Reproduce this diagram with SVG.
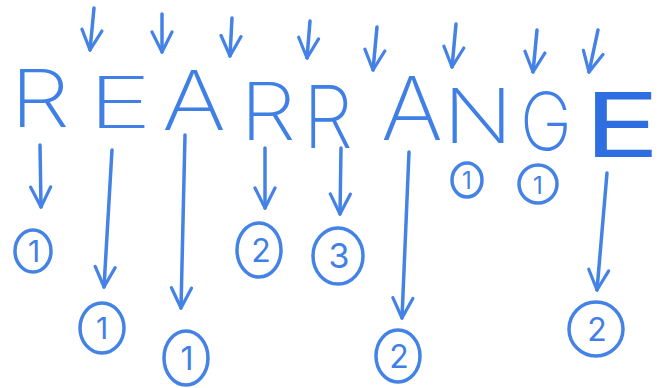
<svg xmlns="http://www.w3.org/2000/svg" width="661" height="388" viewBox="0 0 661 388">
<defs>
<style>
.ln{stroke:#4482e6;stroke-width:3.5;fill:none;stroke-linecap:round;stroke-linejoin:round}
.ln2{stroke:#4482e6;stroke-width:3.5;fill:none;stroke-linecap:round;marker-end:url(#v)}
.let{font-family:Inter,"Open Sans",Roboto,"Liberation Sans",sans-serif;font-weight:200;fill:#3f7fe6}
.num{font-family:Inter,"Liberation Sans","DejaVu Sans",sans-serif;font-weight:400;fill:#3f7fe6;text-anchor:middle}
</style>
<marker id="v" viewBox="0 0 12 12" refX="11" refY="6" markerWidth="24" markerHeight="24" markerUnits="userSpaceOnUse" orient="auto">
<path d="M1,1 L11,6 L1,11" fill="none" stroke="#4482e6" stroke-width="1.6" stroke-linecap="round" stroke-linejoin="round"/>
</marker>
</defs>
<rect width="661" height="388" fill="#ffffff"/>
<g id="connectors">
<path class="ln2" d="M94,8 L90,50"/>
<path class="ln2" d="M162,14 L162,52"/>
<path class="ln2" d="M232,18 L230,56"/>
<path class="ln2" d="M310,21 L307,58"/>
<path class="ln2" d="M377,27 L373,70"/>
<path class="ln2" d="M456,24 L452,67"/>
<path class="ln2" d="M537,30 L533,72"/>
<path class="ln2" d="M598,30 L589,72"/>
<path class="ln2" d="M40,145 L41,207"/>
<path class="ln2" d="M112,150 L104,287"/>
<path class="ln2" d="M185,135 L181,308"/>
<path class="ln2" d="M265,148 L265,208"/>
<path class="ln2" d="M341,148 L340,214"/>
<path class="ln2" d="M409,152 L402,318"/>
<path class="ln2" d="M607,173 L597,290"/>
</g>
<g id="letter-R1"><text class="let" x="10" y="127" font-size="80" textLength="60" lengthAdjust="spacingAndGlyphs">R</text></g>
<g id="letter-E1"><text class="let" x="88" y="128" font-size="72" textLength="64" lengthAdjust="spacingAndGlyphs">E</text></g>
<g id="letter-A1"><text class="let" x="162" y="130" font-size="82" textLength="64" lengthAdjust="spacingAndGlyphs">A</text></g>
<g id="letter-R2"><text class="let" x="240" y="140" font-size="80" textLength="56" lengthAdjust="spacingAndGlyphs">R</text></g>
<g id="letter-R3"><text class="let" x="303" y="148" font-size="86" textLength="50" lengthAdjust="spacingAndGlyphs">R</text></g>
<g id="letter-A2"><text class="let" x="381" y="140" font-size="88" textLength="62" lengthAdjust="spacingAndGlyphs">A</text></g>
<g id="letter-N"><text class="let" x="443" y="143" font-size="76" textLength="70" lengthAdjust="spacingAndGlyphs">N</text></g>
<g id="letter-G"><text class="let" x="520" y="150" font-size="80" textLength="52" lengthAdjust="spacingAndGlyphs">G</text></g>
<g id="letter-E2"><text class="let" x="584" y="157" font-size="90" textLength="76" lengthAdjust="spacingAndGlyphs" style="font-weight:400;fill:#2f6ee0">E</text></g>
<g id="circle-1a"><ellipse class="ln" cx="33" cy="251" rx="18" ry="21"/><text class="num" x="34" y="262" font-size="30">1</text></g>
<g id="circle-1b"><ellipse class="ln" cx="102" cy="328" rx="22" ry="25"/><text class="num" x="102" y="339" font-size="30">1</text></g>
<g id="circle-1c"><ellipse class="ln" cx="186" cy="358" rx="22" ry="27"/><text class="num" x="187" y="370" font-size="32">1</text></g>
<g id="circle-2a"><ellipse class="ln" cx="259" cy="250" rx="22" ry="27"/><text class="num" x="261" y="262" font-size="32">2</text></g>
<g id="circle-3"><ellipse class="ln" cx="338" cy="256" rx="25" ry="28"/><text class="num" x="339" y="268" font-size="34">3</text></g>
<g id="circle-2b"><ellipse class="ln" cx="398" cy="356" rx="22" ry="26"/><text class="num" x="399" y="368" font-size="32">2</text></g>
<g id="circle-1d"><ellipse class="ln" cx="467" cy="180" rx="15" ry="17"/><text class="num" x="467" y="189" font-size="24">1</text></g>
<g id="circle-1e"><ellipse class="ln" cx="538" cy="184" rx="19" ry="19"/><text class="num" x="538" y="194" font-size="24">1</text></g>
<g id="circle-2c"><ellipse class="ln" cx="596" cy="329" rx="27" ry="27"/><text class="num" x="597" y="341" font-size="32">2</text></g>
</svg>
